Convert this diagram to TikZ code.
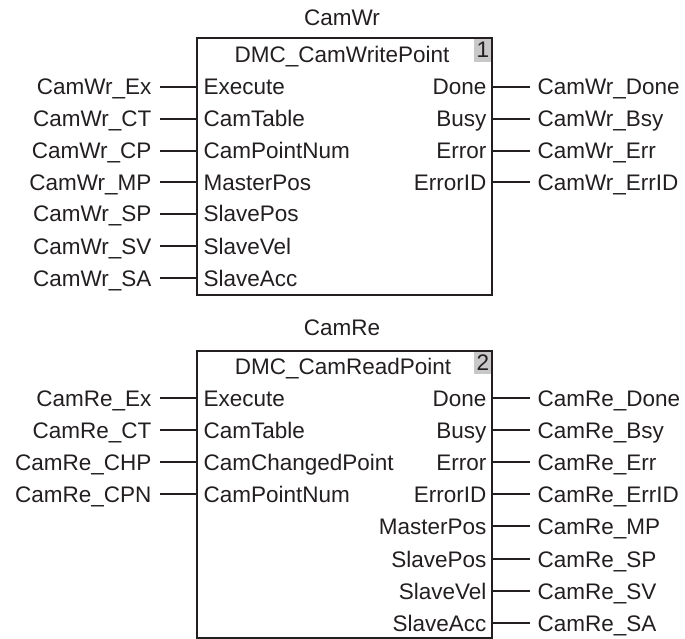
\documentclass[tikz,border=0pt]{standalone}
\usepackage{fontspec}
\setmainfont{Liberation Sans}
\definecolor{FBink}{HTML}{231F20}
\definecolor{FBgray}{HTML}{C8C8C8}
\usetikzlibrary{positioning}

\begin{document}
\begin{tikzpicture}[x=1pt, y=-1pt, line width=1.1pt, draw=FBink,
            every node/.style={font=\fontsize{22.5}{26}\selectfont, text=FBink,
                      text height=16pt, text depth=0pt, inner ysep=0pt},
            fb/.style={draw=FBink, line width=1.4pt, minimum width=295pt},
            num/.style={fill=FBgray, minimum width=18pt, minimum height=24pt,
                      inner xsep=1pt, align=right},
            pinl/.style={anchor=west, inner xsep=6pt},
            pinr/.style={anchor=east, inner xsep=5pt},
            varl/.style={anchor=east, inner xsep=8pt},
            varr/.style={anchor=west, inner xsep=7pt}]
        \useasboundingbox (0,0) rectangle (685,639);
        % CamWr block
        \node (wrname) at (342,18)  {CamWr};
        \node[num] (wrno) at (483,50) {\hfill1};
        \node[fb, minimum height=257pt] (wr) at (344.5,166.5) {};
        \node (wrtype) at (342,55)  {DMC\_CamWritePoint};
        \node[pinl] (wrExecute) at (197,87)  {Execute};
        \node[pinl] (wrTable)   at (197,119) {CamTable};
        \node[pinl] (wrNum)     at (197,151) {CamPointNum};
        \node[pinl] (wrMPos)    at (197,182) {MasterPos};
        \node[pinl] (wrSPos)    at (197,214) {SlavePos};
        \node[pinl] (wrSVel)    at (197,246) {SlaveVel};
        \node[pinl] (wrSAcc)    at (197,278) {SlaveAcc};
        \node[pinr] (wrDone)    at (492,87)  {Done};
        \node[pinr] (wrBusy)    at (492,119) {Busy};
        \node[pinr] (wrError)   at (492,151) {Error};
        \node[pinr] (wrErrID)   at (492,182) {ErrorID};
        \node[varl] (v1) at (160,87)  {CamWr\_Ex};
        \node[varl] (v2) at (160,119) {CamWr\_CT};
        \node[varl] (v3) at (160,151) {CamWr\_CP};
        \node[varl] (v4) at (160,182) {CamWr\_MP};
        \node[varl] (v5) at (160,214) {CamWr\_SP};
        \node[varl] (v6) at (160,246) {CamWr\_SV};
        \node[varl] (v7) at (160,278) {CamWr\_SA};
        \node[varr] (o1) at (530,87)  {CamWr\_Done};
        \node[varr] (o2) at (530,119) {CamWr\_Bsy};
        \node[varr] (o3) at (530,151) {CamWr\_Err};
        \node[varr] (o4) at (530,182) {CamWr\_ErrID};
        \draw (v1.east)--(wrExecute.west) (v2.east)--(wrTable.west)
              (v3.east)--(wrNum.west) (v4.east)--(wrMPos.west)
              (v5.east)--(wrSPos.west) (v6.east)--(wrSVel.west)
              (v7.east)--(wrSAcc.west);
        \draw (wrDone.east)--(o1.west) (wrBusy.east)--(o2.west)
              (wrError.east)--(o3.west) (wrErrID.east)--(o4.west);
        % CamRe block
        \node (rename) at (342,327) {CamRe};
        \node[num] (reno) at (483,362) {\hfill2};
        \node[fb, minimum height=287pt] (re) at (344.5,494.5) {};
        \node (retype) at (343,366) {DMC\_CamReadPoint};
        \node[pinl] (reExecute) at (197,398) {Execute};
        \node[pinl] (reTable)   at (197,430) {CamTable};
        \node[pinl] (reChg)     at (197,462) {CamChangedPoint};
        \node[pinl] (reNum)     at (197,494) {CamPointNum};
        \node[pinr] (reDone)    at (492,398) {Done};
        \node[pinr] (reBusy)    at (492,430) {Busy};
        \node[pinr] (reError)   at (492,462) {Error};
        \node[pinr] (reErrID)   at (492,494) {ErrorID};
        \node[pinr] (reMPos)    at (492,526) {MasterPos};
        \node[pinr] (reSPos)    at (492,559) {SlavePos};
        \node[pinr] (reSVel)    at (492,591) {SlaveVel};
        \node[pinr] (reSAcc)    at (492,623) {SlaveAcc};
        \node[varl] (u1) at (160,398) {CamRe\_Ex};
        \node[varl] (u2) at (160,430) {CamRe\_CT};
        \node[varl] (u3) at (160,462) {CamRe\_CHP};
        \node[varl] (u4) at (160,494) {CamRe\_CPN};
        \node[varr] (w1) at (530,398) {CamRe\_Done};
        \node[varr] (w2) at (530,430) {CamRe\_Bsy};
        \node[varr] (w3) at (530,462) {CamRe\_Err};
        \node[varr] (w4) at (530,494) {CamRe\_ErrID};
        \node[varr] (w5) at (530,526) {CamRe\_MP};
        \node[varr] (w6) at (530,559) {CamRe\_SP};
        \node[varr] (w7) at (530,591) {CamRe\_SV};
        \node[varr] (w8) at (530,623) {CamRe\_SA};
        \draw (u1.east)--(reExecute.west) (u2.east)--(reTable.west)
              (u3.east)--(reChg.west) (u4.east)--(reNum.west);
        \draw (reDone.east)--(w1.west) (reBusy.east)--(w2.west)
              (reError.east)--(w3.west) (reErrID.east)--(w4.west)
              (reMPos.east)--(w5.west) (reSPos.east)--(w6.west)
              (reSVel.east)--(w7.west) (reSAcc.east)--(w8.west);
\end{tikzpicture}
\end{document}
